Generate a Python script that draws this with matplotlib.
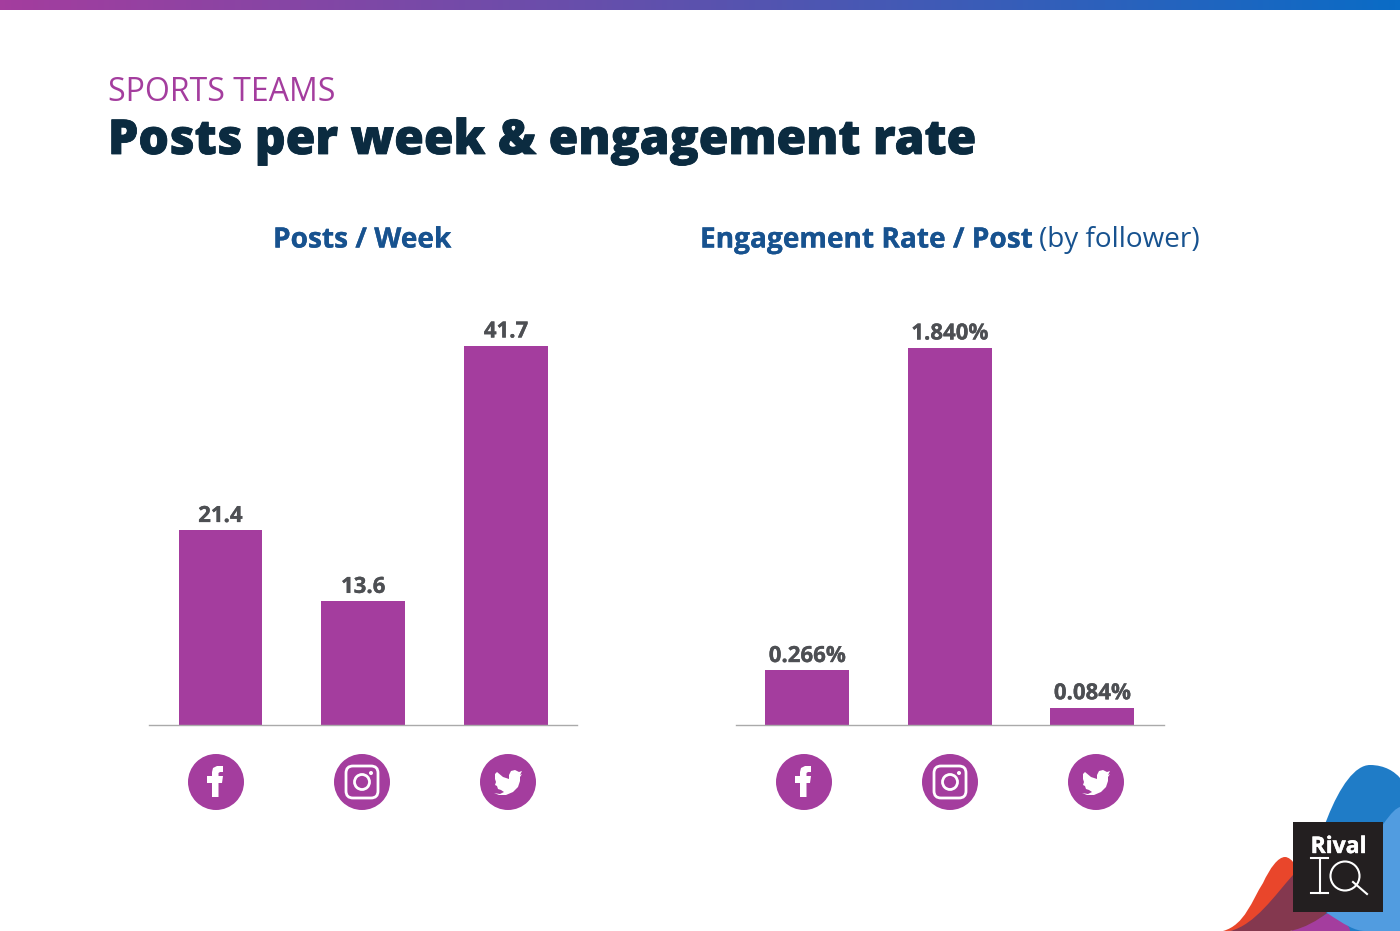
import numpy as np
import matplotlib
matplotlib.use('Agg')
import matplotlib.pyplot as plt
import matplotlib.patheffects as pe
from matplotlib.colors import LinearSegmentedColormap
from matplotlib.patches import Circle, FancyBboxPatch, PathPatch, Rectangle
from matplotlib.path import Path

plt.rcParams['font.family'] = ['Open Sans', 'DejaVu Sans']

platforms = ['Facebook', 'Instagram', 'Twitter']
posts_per_week = [21.4, 13.6, 41.7]
engagement_rate = [0.266, 1.840, 0.084]
posts_labels = ['21.4', '13.6', '41.7']
engagement_labels = ['0.266%', '1.840%', '0.084%']

PURPLE = '#a43d9e'
NAVY = '#0b2b40'
BLUE = '#17528f'
GREY = '#4d4f53'

W, H = 1400, 931


def axes_box(left, right, top, bottom):
	return [left / W, 1 - bottom / H, (right - left) / W, (bottom - top) / H]


def heavy(color, width):
	# thicken the bold face a bit, the original font is heavier
	return [pe.withStroke(linewidth=width, foreground=color)]


def blob(ax, verts, color, z):
	codes = [Path.MOVETO] + [Path.CURVE4] * (len(verts) - 1) + [Path.CLOSEPOLY]
	path = Path(verts + [verts[0]], codes)
	ax.add_patch(PathPatch(path, fc=color, ec='none', zorder=z))


def facebook(ax, cx, cy):
	shape = [(-9, -6), (-4, -6), (-4, -10), (-3, -14), (1, -16), (7, -16), (7, -10), (4, -10),
	         (2.5, -9), (2.5, -6), (7, -6), (6, 1), (2.5, 1), (2.5, 15), (-4, 15), (-4, 1), (-9, 1)]
	pts = [(cx + x, cy + y) for x, y in shape]
	ax.fill(*zip(*pts), color='white', lw=0, zorder=5)


def instagram(ax, cx, cy):
	ax.add_patch(FancyBboxPatch((cx - 13, cy - 13), 26, 26, boxstyle='round,pad=3,rounding_size=7',
	                            fc='none', ec='white', lw=2, zorder=5))
	ax.add_patch(Circle((cx, cy), 7.5, fc='none', ec='white', lw=2, zorder=5))
	ax.add_patch(Circle((cx + 9, cy - 9), 2, fc='white', ec='none', zorder=5))


def twitter(ax, cx, cy):
	bird = [(-14, 11), (-8, 12), (-4, 10), (-7, 8), (-10, 7), (-11, 4), (-13, 3), (-12, 0),
	        (-13, -3), (-13, -8), (-11, -10), (-5, -5), (1, -3), (1, -7), (3, -11), (7, -12),
	        (11, -10), (14, -11), (12, -7), (14, -8), (12, -5), (12, -1), (10, 5), (5, 10),
	        (-2, 13), (-9, 13)]
	pts = [(cx + x, cy + y) for x, y in bird]
	ax.fill(*zip(*pts), color='white', lw=0, zorder=5)


def bar_panel(box, values, labels):
	ax = fig.add_axes(box)
	x = np.arange(len(values))
	ax.bar(x, values, width=0.586, color=PURPLE)
	ax.set_xlim(-0.5, 2.5)
	for i, v in enumerate(values):
		ax.annotate(labels[i], (x[i], v), xytext=(0, 2.5), textcoords='offset points', ha='center',
		            va='bottom', fontsize=16, fontweight='bold', color=GREY,
		            path_effects=heavy(GREY, 0.2))
	ax.set_xticks([])
	ax.set_yticks([])
	for side in ['top', 'left', 'right']:
		ax.spines[side].set_visible(False)
	ax.spines['bottom'].set_color('#aaaaaa')
	ax.spines['bottom'].set_linewidth(1)
	ax.patch.set_alpha(0)
	return ax


fig = plt.figure(figsize=(14, 9.31), dpi=100, facecolor='white')

# overlay in pixel coordinates for the decorations
bg = fig.add_axes([0, 0, 1, 1])
bg.axis('off')

grad = LinearSegmentedColormap.from_list('bar', ['#a43d9e', '#5b52ae', '#0a6cc6'])
bg.imshow(np.linspace(0, 1, 256).reshape(1, -1), cmap=grad, extent=[0, W, 10.5, 0], aspect='auto', zorder=1)
bg.set_xlim(0, W)
bg.set_ylim(H, 0)

# corner shapes
blob(bg, [(1300, 931), (1310, 850), (1340, 765), (1370, 765), (1385, 765), (1395, 772), (1400, 778),
          (1400, 800), (1400, 900), (1400, 931), (1380, 931), (1340, 931), (1300, 931)], '#1f7cc7', 2)
blob(bg, [(1327, 913), (1345, 925), (1355, 931), (1365, 931), (1380, 931), (1395, 931), (1400, 931),
          (1400, 900), (1400, 850), (1400, 807), (1392, 810), (1385, 818), (1327, 913)], '#519ce0', 3)
blob(bg, [(1290, 931), (1305, 925), (1320, 918), (1330, 912), (1340, 918), (1350, 925), (1350, 931),
          (1330, 931), (1310, 931), (1290, 931)], '#a43d9e', 2)
blob(bg, [(1223, 931), (1245, 925), (1252, 900), (1263, 883), (1270, 868), (1278, 857), (1285, 857),
          (1292, 857), (1300, 870), (1300, 880), (1300, 900), (1300, 931), (1223, 931)], '#e9462b', 3)
blob(bg, [(1230, 931), (1255, 925), (1275, 895), (1293, 875), (1305, 890), (1318, 905), (1327, 913),
          (1318, 920), (1305, 928), (1290, 931), (1270, 931), (1250, 931), (1230, 931)], '#84384f', 4)

bg.add_patch(Rectangle((1293, 822), 90, 90, fc='#231f20', ec='none', zorder=6))
bg.text(1338.5, 847, 'Rival', color='white', fontsize=16.5, fontweight='bold', ha='center', va='center',
        zorder=7, path_effects=heavy('white', 0.3))
bg.plot([1311, 1328], [858, 858], color='white', lw=1.5, zorder=7)
bg.plot([1311, 1328], [893, 893], color='white', lw=1.5, zorder=7)
bg.plot([1320, 1320], [858, 893], color='white', lw=1.5, zorder=7)
bg.add_patch(Circle((1345, 876), 14.5, fc='none', ec='white', lw=1.5, zorder=7))
bg.plot([1353, 1367], [882, 894], color='white', lw=1.5, zorder=7)

# social icons under the bars
draw_icon = [facebook, instagram, twitter]
for centres in ([216, 362, 508], [804, 950, 1096]):
	for cx, icon in zip(centres, draw_icon):
		bg.add_patch(Circle((cx, 782), 28, fc=PURPLE, ec='none', zorder=4))
		icon(bg, cx, 782)

# headings
bg.text(108, 92.5, 'SPORTS TEAMS', fontsize=23, color=PURPLE, va='center', ha='left')
bg.text(108, 142, 'Posts per week & engagement rate', fontsize=34.6, fontweight=800, color=NAVY,
        va='center', ha='left', path_effects=heavy(NAVY, 0.6))
bg.text(362, 240, 'Posts / Week', fontsize=20.2, fontweight='bold', color=BLUE, va='center', ha='center',
        path_effects=heavy(BLUE, 0.2))
bg.text(700, 240, 'Engagement Rate / Post', fontsize=20.2, fontweight='bold', color=BLUE, va='center', ha='left',
        path_effects=heavy(BLUE, 0.2))
bg.text(1039, 240.5, '(by follower)', fontsize=20.1, color=BLUE, va='center', ha='left')

ax1 = bar_panel(axes_box(149, 577.5, 300, 725), posts_per_week, posts_labels)
ax1.set_ylim(0, 46.75)
ax2 = bar_panel(axes_box(736, 1163.5, 300, 725), engagement_rate, engagement_labels)
ax2.set_ylim(0, 2.074)

fig.savefig('out.png', dpi=100)
